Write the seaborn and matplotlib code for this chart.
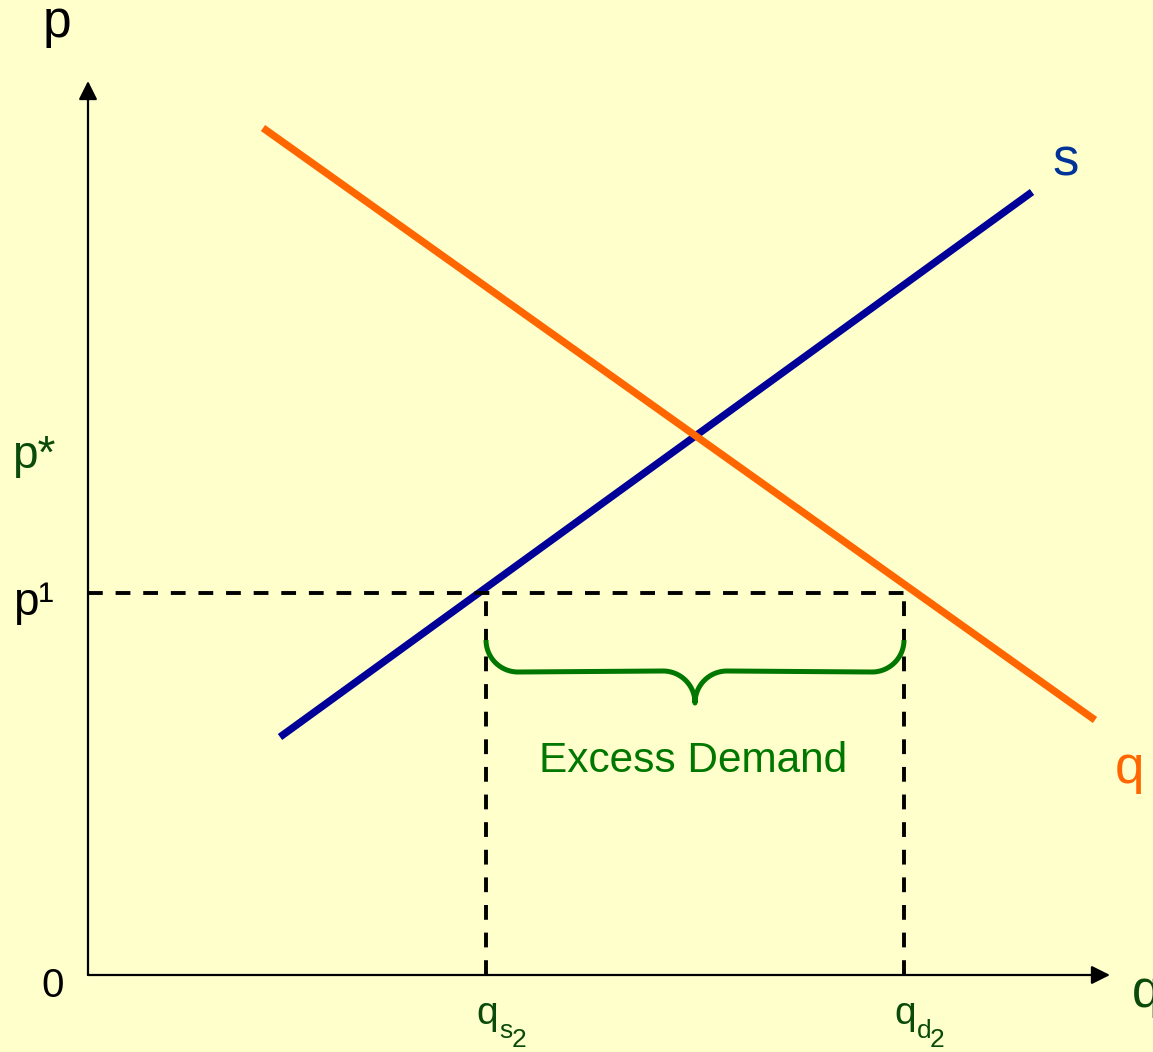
import numpy as np
import pandas as pd
import matplotlib
matplotlib.use('Agg')
import matplotlib.pyplot as plt
import seaborn as sns

# chart units: origin at the axes corner, q to the right, p upwards
supply_q = [192, 944]
supply_p = [238, 783]
demand_q = [175, 1007]
demand_p = [847, 255]

p_star = 507
p_one = 382
q_s2 = 398
q_d2 = 816

q_axis_end = 1022
p_axis_end = 894

brace_top = 335
brace_mid = 303
brace_tip = 272

BG = '#FFFFCC'
DARK_GREEN = '#0A4A0A'

sns.set_style('white', rc={'axes.facecolor': BG, 'figure.facecolor': BG})
plt.rcParams['font.family'] = ['Liberation Sans', 'DejaVu Sans']

fig = plt.figure(figsize=(11.53, 10.52), dpi=100)
ax = fig.add_axes([0, 0, 1, 1])
ax.set_xlim(-88, 1065)
ax.set_ylim(-77, 975)
ax.axis('off')

curves = pd.DataFrame({
    'q': supply_q + demand_q,
    'p': supply_p + demand_p,
    'curve': ['s', 's', 'd', 'd'],
})
sns.lineplot(data=curves, x='q', y='p', hue='curve', palette={'s': '#000099', 'd': '#FF6600'},
             linewidth=5.3, legend=False, ax=ax, estimator=None, sort=False,
             solid_capstyle='butt')

# axes with arrow heads
arrow = dict(arrowstyle='-|>', lw=1.6, color='black', mutation_scale=28, shrinkA=0, shrinkB=0)
ax.annotate('', xy=(0, p_axis_end), xytext=(0, 0), arrowprops=arrow)
ax.annotate('', xy=(q_axis_end, 0), xytext=(0, 0), arrowprops=arrow)

# dashed guides
dash = dict(color='black', lw=2.8, linestyle=(0, (3.8, 3.3)))
ax.plot([0, q_d2], [p_one, p_one], **dash)
ax.plot([q_s2, q_s2], [0, p_one], **dash)
ax.plot([q_d2, q_d2], [0, p_one], **dash)

# curly brace
r = brace_top - brace_mid
mid = (q_s2 + q_d2) / 2
t = np.linspace(0, np.pi / 2, 30)
left_end = np.column_stack([q_s2 + r - r * np.cos(t), brace_top - r * np.sin(t)])
left_mid = np.column_stack([mid - r + r * np.sin(t), brace_tip + r * np.cos(t)])
right_mid = np.column_stack([mid + r - r * np.sin(t[::-1]), brace_tip + r * np.cos(t[::-1])])
right_end = np.column_stack([q_d2 - r + r * np.cos(t[::-1]), brace_top - r * np.sin(t[::-1])])
brace = np.vstack([left_end, left_mid, right_mid, right_end])
ax.plot(brace[:, 0], brace[:, 1], color='#007700', lw=3.6, solid_capstyle='butt')

# labels
ax.text(-31, 938, 'p', fontsize=37, ha='center', va='baseline', color='black')
ax.text(-35, -22, '0', fontsize=29, ha='center', va='baseline', color='black')
ax.text(1044, -32, 'q', fontsize=37, ha='left', va='baseline', color=DARK_GREEN)
ax.text(-76, p_star, 'p*', fontsize=33, ha='left', va='baseline', color=DARK_GREEN)
ax.text(-75, p_one - 22, 'p\u00b9', fontsize=33, ha='left', va='baseline', color='black')
ax.text(964, 799, 's', fontsize=38, ha='left', va='baseline', color='#003399')
ax.text(1027, 192, 'q', fontsize=38, ha='left', va='baseline', color='#FF6600')

# quantity labels with nested subscripts
for q0, sub in [(q_s2, 's'), (q_d2, 'd')]:
    ax.text(q0 - 10, -49, 'q', fontsize=28, ha='left', va='baseline', color=DARK_GREEN)
    ax.text(q0 + 13, -63, sub, fontsize=19, ha='left', va='baseline', color=DARK_GREEN)
    ax.text(q0 + 26, -72, '2', fontsize=19, ha='left', va='baseline', color=DARK_GREEN)

ax.text(605, 203, 'Excess Demand', fontsize=30.5, ha='center', va='baseline', color='#007700')

fig.savefig('out.png', dpi=100, facecolor=BG)
